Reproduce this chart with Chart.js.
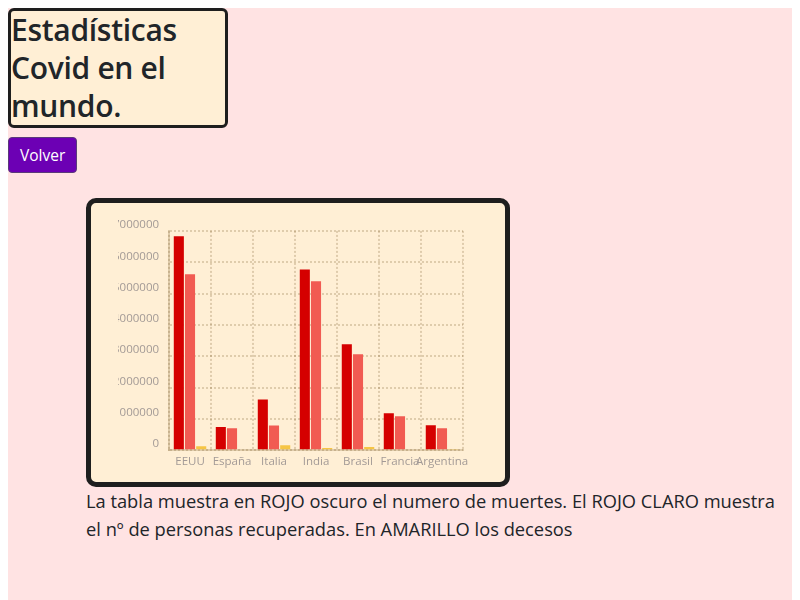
<!DOCTYPE html>
<html>
<head>
<meta charset="utf-8">
<script src="https://cdn.jsdelivr.net/npm/chart.js@4.4.0/dist/chart.umd.min.js"></script>
<style>
    html, body { margin: 0; padding: 0; background: #fff; }
    body { padding: 8px 8px 0 8px; font-family: "Open Sans", sans-serif; color: #212529; }
    .pagina { background: #ffe3e3; min-height: 620px; }
    h1 {
        margin: 0; width: 214px; font-size: 30px; line-height: 38px; font-weight: 600; letter-spacing: -0.3px;
        background: #ffefd5; border: 3px solid #1e1e1e; border-radius: 6px;
    }
    .volver {
        display: block; margin-top: 9px; padding: 5px 11px; font-size: 15.5px; line-height: 24px;
        font-family: inherit; color: #fff; background: #6c00b4; border: 1px solid #5a3a7a; border-radius: 4px;
    }
    .caja {
        position: relative; margin: 25px 0 0 78px; width: 414px; height: 279px;
        background: #ffefd5; border: 5px solid #1e1e1e; border-radius: 10px;
    }
    .recorte { position: absolute; left: 27px; top: 0; right: 0; bottom: 0; overflow: hidden; }
    .lienzo { position: absolute; left: -15px; top: 11px; width: 372px; height: 265px; }
    p { margin: 0 0 0 78px; font-size: 18.3px; line-height: 28px; }
</style>
</head>
<body>
<div class="pagina">
    <h1>Estadísticas Covid en el mundo.</h1>
    <button class="volver">Volver</button>
    <div class="caja">
        <div class="recorte">
            <div class="lienzo"><canvas id="grafico"></canvas></div>
        </div>
    </div>
    <p>La tabla muestra en ROJO oscuro el numero de muertes. El ROJO CLARO muestra el nº de personas recuperadas. En AMARILLO los decesos</p>
</div>
<script>
    let paises = ['EEUU', 'España', 'Italia', 'India', 'Brasil', 'Francia', 'Argentina'];
    let casos = [6830000, 740000, 1620000, 5770000, 3380000, 1180000, 800000];
    let recuperados = [5620000, 700000, 790000, 5390000, 3060000, 1080000, 700000];
    let decesos = [130000, 30000, 160000, 70000, 100000, 30000, 20000];

    let grafico = document.getElementById('grafico');
    let rejilla = {
        color: 'rgba(120, 90, 40, 0.24)',
        lineWidth: 2,
        drawTicks: false
    };
    let borde = {
        color: 'rgba(120, 90, 40, 0.24)',
        width: 2,
        dash: [2, 2]
    };
    let grafico_chart = new Chart(grafico, {
        type: 'bar',
        data: {
            labels: paises,
            datasets: [{
                label: 'Casos',
                data: casos,
                backgroundColor: '#d50000'
            }, {
                label: 'Recuperados',
                data: recuperados,
                backgroundColor: '#f15b52'
            }, {
                label: 'Decesos',
                data: decesos,
                backgroundColor: '#f6c544'
            }]
        },
        options: {
            responsive: true,
            maintainAspectRatio: false,
            animation: false,
            layout: {
                padding: { top: 11, right: 12, bottom: 5, left: 0 }
            },
            plugins: {
                legend: { display: false },
                tooltip: { enabled: false }
            },
            scales: {
                x: {
                    grid: rejilla,
                    border: borde,
                    ticks: {
                        color: '#a39a96',
                        padding: 5,
                        autoSkip: false,
                        maxRotation: 0,
                        font: { family: 'Open Sans', size: 11.5 }
                    }
                },
                y: {
                    beginAtZero: true,
                    max: 7000000,
                    grid: rejilla,
                    border: borde,
                    ticks: {
                        stepSize: 1000000,
                        color: '#a39a96',
                        padding: 10,
                        labelOffset: -6,
                        font: { family: 'Open Sans', size: 11.5 },
                        callback: (valor) => String(valor)
                    }
                }
            }
        }
    });
</script>
</body>
</html>
